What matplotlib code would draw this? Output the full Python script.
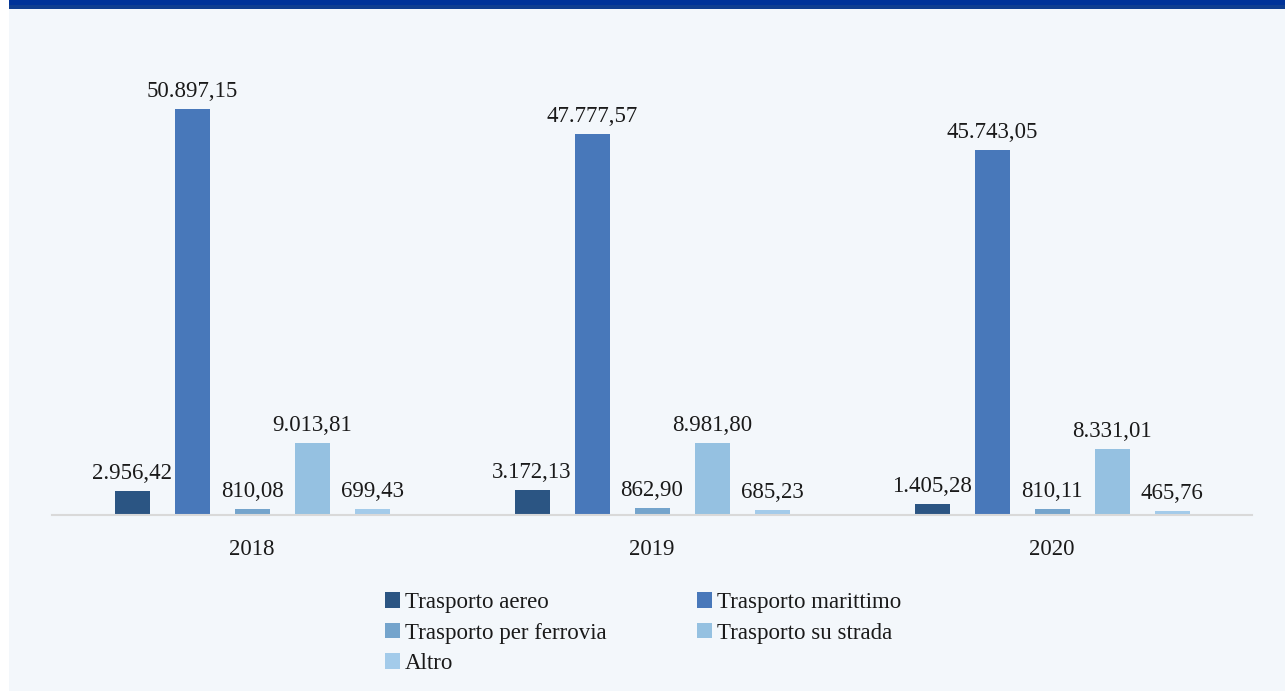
import matplotlib
matplotlib.use("Agg")
import matplotlib.pyplot as plt
from matplotlib.patches import Rectangle
import numpy as np

# Data
years = ["2018", "2019", "2020"]
series_names = ["Trasporto aereo", "Trasporto marittimo", "Trasporto per ferrovia",
                "Trasporto su strada", "Altro"]
aereo = [2956.42, 3172.13, 1405.28]
marittimo = [50897.15, 47777.57, 45743.05]
ferrovia = [810.08, 862.90, 810.11]
strada = [9013.81, 8981.80, 8331.01]
altro = [699.43, 685.23, 465.76]
series = [aereo, marittimo, ferrovia, strada, altro]
colors = ["#2b5583", "#4878ba", "#74a4cc", "#95c1e1", "#a3cbea"]

plt.rcParams["font.family"] = ["Liberation Serif", "DejaVu Serif"]

W, H = 1285, 691
fig = plt.figure(figsize=(W / 100, H / 100), dpi=100)
fig.patch.set_facecolor("white")

# page background and top band
fig.patches.append(Rectangle((9 / W, 0), 1 - 9 / W, 1 - 9 / H, transform=fig.transFigure,
                             facecolor="#f3f7fb", edgecolor="none", zorder=-10))
fig.patches.append(Rectangle((9 / W, 1 - 9 / H), 1 - 9 / W, 9 / H, transform=fig.transFigure,
                             facecolor="#0f3e90", edgecolor="none", zorder=-10))
fig.patches.append(Rectangle((9 / W, 1 - 5 / H), 1 - 9 / W, 5 / H, transform=fig.transFigure,
                             facecolor="#003399", edgecolor="none", zorder=-9))

# axes: baseline at y=515 px, x from 52 to 1252 px
ymax = 60000
px_per_unit = 406 / 50897.15
top_px = 515 - ymax * px_per_unit
ax = fig.add_axes([52 / W, 1 - 515 / H, 1200 / W, (515 - top_px) / H])
ax.set_zorder(5)
ax.set_facecolor("none")
ax.set_xlim(-0.5, 2.5)
ax.set_ylim(0, ymax)

x = np.arange(len(years))
bar_w = 35 / 400
step = 60 / 400
offsets = (np.arange(len(series)) - 2) * step


def fmt(v):
    s = f"{v:,.2f}"
    return s.replace(",", "X").replace(".", ",").replace("X", ".")


handles = []
for vals, name, col, off in zip(series, series_names, colors, offsets):
    bars = ax.bar(x + off, vals, width=bar_w, color=col, label=name, zorder=2)
    handles.append(bars)
    for b, v in zip(bars, vals):
        ax.annotate(fmt(v), (b.get_x() + b.get_width() / 2, v), xytext=(0, 5),
                    textcoords="offset points", ha="center", va="bottom",
                    fontsize=16.5, color="#1a1a1a")

for s in ["top", "right", "left"]:
    ax.spines[s].set_visible(False)
ax.spines["bottom"].set_color("#d9d9d9")
ax.spines["bottom"].set_linewidth(1.5)
ax.set_yticks([])
ax.set_xticks(x)
ax.set_xticklabels(years, fontsize=16.5, color="#1a1a1a")
ax.tick_params(axis="x", length=0, pad=17.5)

# legend entries read row by row across two columns
order = [0, 2, 4, 1, 3]
leg = fig.legend([handles[i] for i in order], [series_names[i] for i in order],
                 loc="upper left", bbox_to_anchor=(385 / W, 1 - 592 / H), ncol=2,
                 frameon=False, fontsize=16.5, handlelength=0.66, handleheight=0.66,
                 handletextpad=0.22, columnspacing=3.95, labelspacing=0.42,
                 borderpad=0, borderaxespad=0)
for t in leg.get_texts():
    t.set_color("#1a1a1a")

fig.savefig("out.png", dpi=100, facecolor=fig.get_facecolor())
